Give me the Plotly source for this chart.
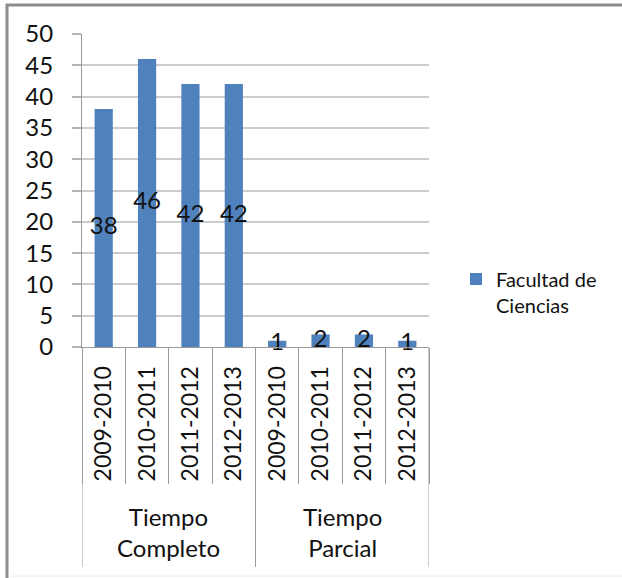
import plotly.graph_objects as go

# data
groups = ["Tiempo<br>Completo", "Tiempo<br>Parcial"]
years = ["2009-2010", "2010-2011", "2011-2012", "2012-2013"]
completo = [38, 46, 42, 42]
parcial = [1, 2, 2, 1]
series_name = "Facultad de<br>Ciencias"

BLUE = "#4f81bd"
GRID = "#cccccc"
AXIS = "#9a9a9a"
FONT = "Lato, Calibri, sans-serif"

values = completo + parcial
ticktext = years + years
xs = list(range(len(values)))
n_years = len(years)

W, H = 622, 578
L, R, T, B = 82, 193, 34, 231
plot_w = W - L - R
plot_h = H - T - B

fig = go.Figure()

fig.add_trace(go.Bar(
    x=xs, y=values, name=series_name,
    marker={"color": BLUE, "line": {"width": 0}},
    width=0.42,
))

# value labels, centred on the bars like Excel does
fig.add_trace(go.Scatter(
    x=xs, y=[v / 2 for v in values],
    mode="text", text=[str(v) for v in values],
    textposition="middle center",
    textfont={"size": 24, "color": "#111111", "family": FONT},
    showlegend=False, cliponaxis=False, hoverinfo="skip",
))

# group dividers running down through the label area
bounds = [-0.5, n_years - 0.5, 2 * n_years - 0.5]
div_len = (567 - (H - B)) / plot_h
for xb in bounds:
    fig.add_shape(type="line", xref="x", yref="paper",
                  x0=xb, x1=xb, y0=0, y1=-div_len,
                  line={"color": AXIS, "width": 1})

# outer group labels
for gi, g in enumerate(groups):
    fig.add_annotation(
        x=gi * n_years + (n_years - 1) / 2, y=0, xref="x", yref="paper",
        text=g, showarrow=False, yanchor="middle", yshift=-185,
        font={"size": 24, "color": "#111111", "family": FONT},
    )

# page frame (left / top grey edge, faint bottom edge)
def px(x):
    return (x - L) / plot_w

def py(y):
    return (H - B - y) / plot_h

fig.add_shape(type="line", xref="paper", yref="paper",
              x0=px(7), x1=px(7), y0=py(H), y1=py(4),
              line={"color": "#8c8c8c", "width": 3})
fig.add_shape(type="line", xref="paper", yref="paper",
              x0=px(6), x1=px(W), y0=py(5), y1=py(5),
              line={"color": "#8c8c8c", "width": 3})
fig.add_shape(type="line", xref="paper", yref="paper",
              x0=px(8), x1=px(W), y0=py(576), y1=py(576),
              line={"color": "#ececec", "width": 1})

fig.update_layout(
    width=W, height=H,
    margin={"l": L, "r": R, "t": T, "b": B},
    paper_bgcolor="white", plot_bgcolor="white",
    font={"family": FONT, "color": "#111111"},
    showlegend=True,
    legend={
        "x": px(456), "xanchor": "left",
        "y": py(292), "yanchor": "middle",
        "font": {"size": 20, "family": FONT, "color": "#111111"},
        "valign": "top", "bgcolor": "rgba(0,0,0,0)",
    },
    xaxis={
        "range": [-0.5, len(values) - 0.5],
        "tickmode": "array", "tickvals": xs, "ticktext": ticktext,
        "tickangle": -90, "ticks": "", "ticklabelstandoff": 9,
        "tickfont": {"size": 23, "family": FONT, "color": "#111111"},
        "showgrid": False, "zeroline": False,
        "showline": True, "linecolor": AXIS, "linewidth": 1,
        "minor": {"tickmode": "array", "tickvals": [i - 0.5 for i in range(len(values) + 1)],
                  "ticks": "outside", "ticklen": 136, "tickcolor": AXIS, "tickwidth": 1},
        "fixedrange": True,
    },
    yaxis={
        "range": [0, 50], "dtick": 5,
        "ticks": "outside", "ticklen": 9, "tickcolor": "#b4b4b4", "tickwidth": 2,
        "ticklabelstandoff": 14,
        "tickfont": {"size": 24, "family": FONT, "color": "#111111"},
        "showgrid": True, "gridcolor": GRID, "gridwidth": 2,
        "zeroline": False,
        "showline": True, "linecolor": AXIS, "linewidth": 1,
        "fixedrange": True,
    },
)

# page has a default 8px body margin; drop it so the chart sits at the window origin
fig.write_html("out.html", config={"displayModeBar": False},
               post_script="document.body.style.margin='0px';")
